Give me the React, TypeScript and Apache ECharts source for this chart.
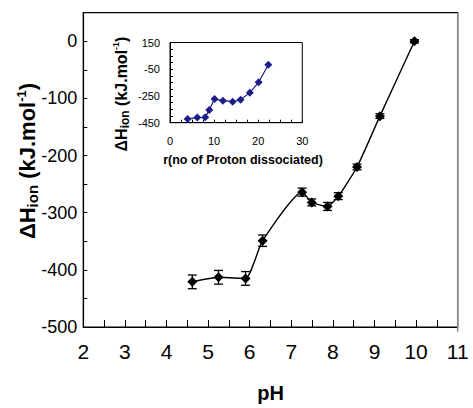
import React, { useEffect, useRef } from "react";
import * as echarts from "echarts";

const phValues = [4.62, 5.25, 5.9, 6.31, 7.26, 7.49, 7.87, 8.13, 8.58, 9.13, 9.96];
const dhValues = [-421, -413, -415, -349, -264, -282, -289, -271, -220, -131, 0];
const dhErrors = [12, 12, 12, 10, 7, 6, 7, 6, 5, 4, 3];

const rValues = [4.0, 6.2, 8.0, 8.9, 10.1, 12.0, 14.2, 16.0, 18.1, 20.1, 22.3];
const insetValues = [-422, -412, -410, -355, -273, -285, -293, -278, -225, -148, -16];

const FONT = "'Liberation Sans', Arial, Helvetica, sans-serif";

export default function App() {
  const ref = useRef<HTMLDivElement>(null);
  useEffect(() => {
    if (!ref.current) return;
    const chart = echarts.init(ref.current, null, { renderer: "svg" });
    const mainData = phValues.map((x, i) => [x, dhValues[i]]);
    const errData = phValues.map((x, i) => [x, dhValues[i], dhErrors[i]]);
    const insetData = rValues.map((x, i) => [x, insetValues[i]]);

    chart.setOption({
      animation: false,
      backgroundColor: "#fff",
      textStyle: { fontFamily: FONT },
      grid: [
        {
          left: 83.3,
          top: 12.7,
          right: 15.3,
          bottom: 76.3,
          show: true,
          borderColor: "#000",
          borderWidth: 1.2,
        },
        {
          left: 170,
          top: 42.5,
          width: 132.3,
          height: 80.2,
          show: true,
          borderColor: "#000",
          borderWidth: 1,
          backgroundColor: "#fff",
        },
      ],
      xAxis: [
        {
          gridIndex: 0,
          type: "value",
          min: 2,
          max: 11,
          interval: 0.5,
          splitLine: { show: false },
          axisLine: { onZero: false, lineStyle: { color: "#000", width: 1.2 } },
          axisTick: { inside: true, length: 7, lineStyle: { color: "#000" } },
          axisLabel: {
            fontSize: 21,
            color: "#000",
            fontFamily: FONT,
            margin: 14,
            formatter: (v: number) => (Math.abs(v - Math.round(v)) < 1e-6 ? String(Math.round(v)) : ""),
          },
          name: "pH",
          nameLocation: "middle",
          nameGap: 56,
          nameTextStyle: { fontSize: 20, fontWeight: "bold", color: "#000", fontFamily: FONT },
        },
        {
          gridIndex: 1,
          type: "value",
          min: 0,
          max: 30,
          interval: 2.5,
          splitLine: { show: false },
          axisLine: { onZero: false, lineStyle: { color: "#000" } },
          axisTick: { inside: true, length: 3, lineStyle: { color: "#000" } },
          axisLabel: {
            fontSize: 11,
            color: "#000",
            fontFamily: FONT,
            margin: 13,
            formatter: (v: number) => (Math.abs(v % 10) < 1e-6 ? String(v) : ""),
          },
        },
      ],
      yAxis: [
        {
          gridIndex: 0,
          type: "value",
          min: -500,
          max: 50,
          interval: 50,
          splitLine: { show: false },
          axisLine: { onZero: false, lineStyle: { color: "#000", width: 1.2 } },
          axisTick: { inside: true, length: 4, lineStyle: { color: "#000" } },
          axisLabel: {
            fontSize: 18,
            color: "#000",
            fontFamily: FONT,
            margin: 6,
            formatter: (v: number) => (v % 100 === 0 && v <= 0 ? String(v) : ""),
          },
        },
        {
          gridIndex: 1,
          type: "value",
          min: -450,
          max: 150,
          interval: 50,
          splitLine: { show: false },
          axisLine: { onZero: false, lineStyle: { color: "#000" } },
          axisTick: { inside: true, length: 3, lineStyle: { color: "#000" } },
          axisLabel: {
            fontSize: 11,
            color: "#000",
            fontFamily: FONT,
            margin: 10,
            formatter: (v: number) => ((v + 450) % 200 === 0 ? String(v) : ""),
          },
        },
      ],
      series: [
        {
          type: "line",
          xAxisIndex: 0,
          yAxisIndex: 0,
          data: mainData,
          smooth: 0.18,
          symbol: "diamond",
          symbolSize: 10,
          lineStyle: { color: "#000", width: 1.4 },
          itemStyle: { color: "#000" },
          z: 3,
        },
        {
          type: "custom",
          xAxisIndex: 0,
          yAxisIndex: 0,
          data: errData,
          z: 4,
          renderItem: (params: any, api: any) => {
            const x = api.value(0);
            const y = api.value(1);
            const e = api.value(2);
            const top = api.coord([x, y + e]);
            const bot = api.coord([x, y - e]);
            const hw = 4.5;
            const st = { stroke: "#000", lineWidth: 1.3 };
            return {
              type: "group",
              children: [
                { type: "line", shape: { x1: top[0], y1: top[1], x2: bot[0], y2: bot[1] }, style: st },
                { type: "line", shape: { x1: top[0] - hw, y1: top[1], x2: top[0] + hw, y2: top[1] }, style: st },
                { type: "line", shape: { x1: bot[0] - hw, y1: bot[1], x2: bot[0] + hw, y2: bot[1] }, style: st },
              ],
            };
          },
        },
        {
          type: "line",
          xAxisIndex: 1,
          yAxisIndex: 1,
          data: insetData,
          symbol: "diamond",
          symbolSize: 8,
          lineStyle: { color: "#1c1c8c", width: 1.2 },
          itemStyle: { color: "#1c1c8c" },
          z: 5,
        },
      ],
      graphic: [
        {
          type: "line",
          shape: { x1: 457.7, y1: 12.7, x2: 457.7, y2: 331.7 },
          style: { stroke: "#8a8a8a", lineWidth: 1.5 },
          z: 10,
        },
        {
          type: "text",
          x: 27,
          y: 161,
          rotation: Math.PI / 2,
          style: {
            text: "{a|ΔH}{sub|ion}{a| (kJ.mol}{sup|-1}{a|)}",
            align: "center",
            verticalAlign: "middle",
            fontFamily: FONT,
            rich: {
              a: { fontSize: 22, fontWeight: "bold", fontFamily: FONT, fill: "#000" },
              sub: { fontSize: 15, fontWeight: "bold", fontFamily: FONT, fill: "#000", verticalAlign: "bottom", padding: [10, 0, 0, 0] },
              sup: { fontSize: 13, fontWeight: "bold", fontFamily: FONT, fill: "#000", verticalAlign: "top", padding: [0, 0, 10, 0] },
            },
          },
        },
        {
          type: "text",
          x: 121,
          y: 94,
          rotation: Math.PI / 2,
          style: {
            text: "{a|ΔH}{sub|ion}{a| (kJ.mol}{sup|-1}{a|)}",
            align: "center",
            verticalAlign: "middle",
            fontFamily: FONT,
            rich: {
              a: { fontSize: 16, fontWeight: "bold", fontFamily: FONT, fill: "#000" },
              sub: { fontSize: 12, fontWeight: "bold", fontFamily: FONT, fill: "#000", verticalAlign: "bottom", padding: [7, 0, 0, 0] },
              sup: { fontSize: 9, fontWeight: "bold", fontFamily: FONT, fill: "#000", verticalAlign: "top", padding: [0, 0, 7, 0] },
            },
          },
        },
        {
          type: "text",
          x: 243,
          y: 160,
          style: {
            text: "r(no of Proton dissociated)",
            align: "center",
            verticalAlign: "middle",
            fontFamily: FONT,
            fontSize: 12.5,
            fontWeight: "bold",
            fill: "#000",
          },
        },
      ],
    });
    return () => chart.dispose();
  }, []);
  return <div ref={ref} style={{ width: 473, height: 408, position: "absolute", left: 0, top: 0 }} />;
}
